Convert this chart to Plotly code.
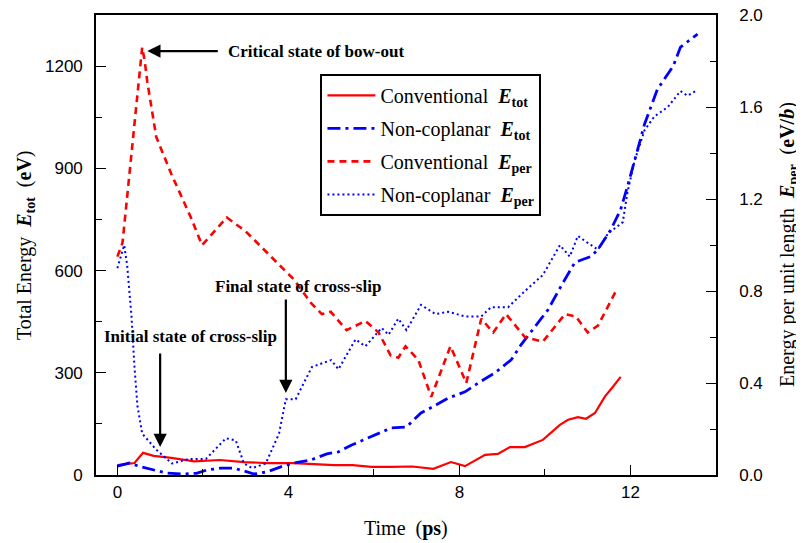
import plotly.graph_objects as go

# ---- data ----
t_conv_tot = [0, 0.4, 0.6, 0.85, 1.26, 1.8, 2.4, 2.96, 3.5, 4.1, 4.6, 5.06, 5.5, 5.94, 6.4, 6.9, 7.39, 7.8, 8.13,
              8.6, 8.9, 9.18, 9.53, 9.95, 10.35, 10.54, 10.77, 10.96, 11.17, 11.4, 11.59, 11.77]
e_conv_tot = [29, 35, 65, 56, 50, 40, 44, 38, 35, 35, 32, 29, 29, 24, 24, 25, 18, 38, 26,
              59, 62, 82, 82, 103, 147, 162, 170, 165, 182, 230, 259, 288]

t_nc_tot = [0, 0.28, 0.55, 0.86, 1.14, 1.5, 1.85, 2.1, 2.42, 2.73, 2.96, 3.2, 3.5, 3.82, 4.13, 4.52, 4.9, 5.17,
            5.48, 5.94, 6.4, 6.76, 7.1, 7.46, 7.74, 8.13, 8.44, 8.83, 9.21, 9.44, 9.84, 10.07, 10.37, 10.7, 11.07,
            11.24, 11.54, 11.77, 11.93, 12.1, 12.33, 12.63, 13.0, 13.17, 13.57]
e_nc_tot = [26, 35, 24, 15, 6, 3, 5, 15, 20, 20, 12, 3, 9, 24, 35, 44, 62, 68,
            88, 112, 138, 141, 182, 206, 226, 244, 270, 300, 338, 382, 447, 485, 553, 624, 641,
            662, 720, 779, 847, 926, 1030, 1132, 1200, 1256, 1294]

t_conv_per = [0, 0.12, 0.58, 0.64, 0.70, 0.91, 1.26, 1.72, 1.98, 2.56, 3.0, 3.59, 4.13, 4.52, 4.78, 4.99, 5.36,
              5.8, 6.11, 6.39, 6.57, 6.74, 7.04, 7.34, 7.79, 8.16, 8.51, 8.79, 9.09, 9.53, 9.95, 10.47, 10.72,
              11.0, 11.24, 11.66]
e_conv_per = [0.95, 1.01, 1.86, 1.80, 1.71, 1.47, 1.31, 1.12, 1.00, 1.12, 1.06, 0.95, 0.85, 0.75, 0.70, 0.71, 0.63,
              0.67, 0.62, 0.52, 0.51, 0.56, 0.50, 0.34, 0.56, 0.40, 0.68, 0.62, 0.70, 0.60, 0.58, 0.70, 0.69,
              0.62, 0.65, 0.80]

t_nc_per = [0, 0.16, 0.23, 0.33, 0.40, 0.47, 0.58, 0.91, 1.28, 1.68, 2.07, 2.54, 2.77, 2.96, 3.15, 3.47, 3.78,
            3.94, 4.17, 4.55, 5.0, 5.17, 5.57, 5.8, 6.18, 6.34, 6.57, 6.76, 7.1, 7.44, 7.74, 8.13, 8.51, 8.74,
            9.14, 9.53, 9.95, 10.35, 10.58, 10.77, 11.0, 11.24, 11.47, 11.82, 11.93, 12.1, 12.33, 12.56, 12.87,
            13.17, 13.33, 13.52]
e_nc_per = [0.90, 1.00, 0.91, 0.69, 0.47, 0.30, 0.18, 0.11, 0.05, 0.07, 0.07, 0.16, 0.15, 0.05, 0.03, 0.05, 0.18,
            0.33, 0.33, 0.47, 0.50, 0.46, 0.59, 0.56, 0.64, 0.61, 0.68, 0.63, 0.74, 0.70, 0.71, 0.69, 0.69, 0.73,
            0.73, 0.80, 0.87, 1.00, 0.95, 1.04, 1.01, 0.98, 1.05, 1.10, 1.23, 1.37, 1.50, 1.56, 1.60,
            1.67, 1.65, 1.67]

x_ticks = [0, 4, 8, 12]
y_ticks = [0, 300, 600, 900, 1200]
y2_ticks = [0.0, 0.4, 0.8, 1.2, 1.6, 2.0]

RED = "#ff0000"
BLUE = "#0000ff"
SERIF = "Liberation Serif, Times New Roman, serif"
SANS = "Liberation Sans, Arial, sans-serif"
NB = "\u00a0"

def E(sub):
    return "<i><b>E</b></i><sub><b>" + sub + "</b></sub>"

fig = go.Figure()
fig.add_trace(go.Scatter(x=t_conv_tot, y=e_conv_tot, mode="lines", name="Conventional" + NB + NB + E("tot"),
                         legendgroup="a", line=dict(color=RED, width=2.2, dash="solid")))
fig.add_trace(go.Scatter(x=t_nc_tot, y=e_nc_tot, mode="lines", name="Non-coplanar" + NB + NB + E("tot"),
                         legendgroup="b", line=dict(color=BLUE, width=2.8, dash="13px,5px,3px,5px")))
fig.add_trace(go.Scatter(x=t_conv_per, y=e_conv_per, mode="lines", name="Conventional" + NB + NB + E("per"),
                         legendgroup="c", yaxis="y2", line=dict(color=RED, width=2.6, dash="7px,5px")))
fig.add_trace(go.Scatter(x=t_nc_per, y=e_nc_per, mode="lines", name="Non-coplanar" + NB + NB + E("per"),
                         legendgroup="d", yaxis="y2", line=dict(color=BLUE, width=2, dash="2px,3px")))

ann_font = dict(family=SERIF, size=17, color="black")
title_font = dict(family=SERIF, size=20, color="black")
annotations = [
    dict(x=0.70, y=1244, xref="x", yref="y", text="", showarrow=True, ax=72, ay=0,
         arrowhead=2, arrowsize=1.2, arrowwidth=2.2, arrowcolor="black"),
    dict(x=2.54, y=1244, xref="x", yref="y", text="<b>Critical state of bow-out</b>", showarrow=False,
         xanchor="left", yanchor="middle", font=ann_font),
    dict(x=3.94, y=241, xref="x", yref="y", text="", showarrow=True, ax=0, ay=-95,
         arrowhead=2, arrowsize=1.2, arrowwidth=2.2, arrowcolor="black"),
    dict(x=4.22, y=553, xref="x", yref="y", text="<b>Final state of cross-slip</b>", showarrow=False,
         xanchor="center", yanchor="middle", font=ann_font),
    dict(x=1.0, y=82, xref="x", yref="y", text="", showarrow=True, ax=0, ay=-95,
         arrowhead=2, arrowsize=1.2, arrowwidth=2.2, arrowcolor="black"),
    dict(x=1.72, y=406, xref="x", yref="y", text="<b>Initial state of cross-slip</b>", showarrow=False,
         xanchor="center", yanchor="middle", font=ann_font),
    # axis titles
    dict(x=0.5, y=0, xref="paper", yref="paper", yshift=-53, showarrow=False,
         text="Time" + NB + NB + "(<b>ps</b>)", font=title_font, xanchor="center", yanchor="middle"),
    dict(x=0, y=0.5, xref="paper", yref="paper", xshift=-71, showarrow=False, textangle=-90,
         text="Total Energy" + NB + NB + E("tot") + NB + NB + "(<b>eV</b>)", font=title_font,
         xanchor="center", yanchor="middle"),
    dict(x=1, y=0.5, xref="paper", yref="paper", xshift=72, showarrow=False, textangle=-90,
         text="Energy per unit length" + NB + NB + E("per") + NB + NB + "(<b>eV/<i>b</i></b>)", font=title_font,
         xanchor="center", yanchor="middle"),
]

axis_common = dict(showline=True, linecolor="black", linewidth=1.6, ticks="inside", ticklen=10,
                   tickwidth=1.4, tickcolor="black", showgrid=False, zeroline=False, automargin=False,
                   tickfont=dict(family=SANS, size=17, color="black"))
minor_common = dict(ticks="inside", ticklen=6, tickcolor="black", tickwidth=1.4)

# the page adds an 8px body margin, so the figure is 8px smaller and margins shifted
fig.update_layout(
    width=796, height=535,
    margin=dict(l=88, r=88, t=7, b=68),
    paper_bgcolor="white", plot_bgcolor="white",
    xaxis=dict(range=[-0.5, 14], tickvals=x_ticks, ticktext=[str(v) for v in x_ticks], mirror=True,
               minor=dict(dtick=2, tick0=0, **minor_common), ticklabelstandoff=1, **axis_common),
    yaxis=dict(range=[0, 1350], tickvals=y_ticks, ticktext=[str(v) for v in y_ticks],
               minor=dict(dtick=150, tick0=0, **minor_common), ticklabelstandoff=8, **axis_common),
    yaxis2=dict(range=[0, 2.001], overlaying="y", side="right", tickvals=y2_ticks,
                ticktext=["%.1f" % v for v in y2_ticks], ticklabeloverflow="allow",
                minor=dict(dtick=0.2, tick0=0, **minor_common), ticklabelstandoff=18, **axis_common),
    showlegend=True,
    legend=dict(x=0.362, y=0.872, xanchor="left", yanchor="top", bgcolor="white",
                bordercolor="black", borderwidth=2, tracegroupgap=4, itemwidth=48,
                font=dict(family=SERIF, size=20, color="black")),
    annotations=annotations,
)

fig.write_html("out.html")
